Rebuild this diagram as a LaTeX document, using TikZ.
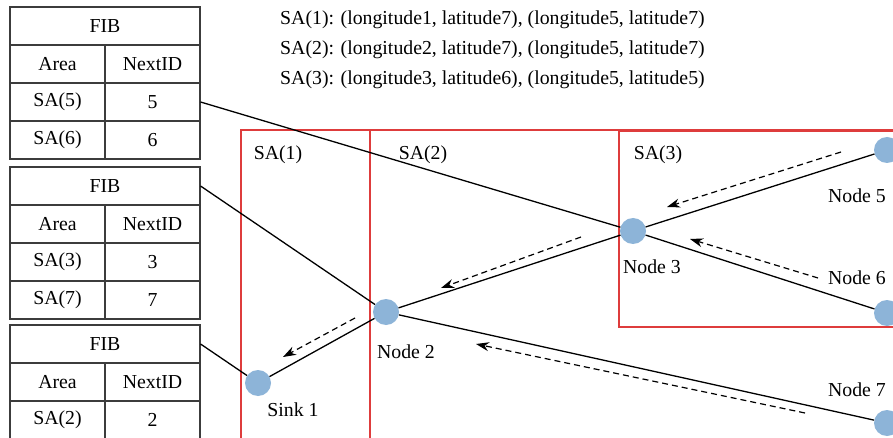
\documentclass[tikz,border=0pt]{standalone}
\usepackage{fontspec}
\setmainfont{Liberation Serif}
\usetikzlibrary{arrows.meta}
\definecolor{nodeblue}{RGB}{141,180,216}
\definecolor{boxred}{RGB}{222,60,60}
\definecolor{tabline}{RGB}{60,60,60}
\newcommand{\fsz}{\fontsize{19.8}{22}\selectfont}
\begin{document}
\begin{tikzpicture}[x=1pt,y=-1pt,
  cell/.style={draw=tabline, line width=1.1pt, minimum height=38pt, inner sep=0pt, font=\fsz},
  wcell/.style={cell, minimum width=190pt},
  hcell/.style={cell, minimum width=95pt},
  sensor/.style={circle, fill=nodeblue, minimum size=26pt, inner sep=0pt},
  lbl/.style={font=\fsz, inner sep=0pt},
  link/.style={line width=1.3pt, black},
  flow/.style={line width=1.2pt, dashed, dash pattern=on 6pt off 4pt, -{Stealth[length=13pt,width=9pt]}},
  region/.style={draw=boxred, line width=1.3pt}]
\useasboundingbox (0,0) rectangle (893,438);
\clip (0,0) rectangle (893,438);
\fill[white] (0,0) rectangle (893,438);

% top text
\node[lbl, anchor=west] (t1) at (280,20) {SA(1): (longitude1, latitude7), (longitude5, latitude7)};
\node[lbl, anchor=west] (t2) at (280,50) {SA(2): (longitude2, latitude7), (longitude5, latitude7)};
\node[lbl, anchor=west] (t3) at (280,80) {SA(3): (longitude3, latitude6), (longitude5, latitude5)};

% regions
\draw[region] (241,460) -- (241,130) -- (900,130);
\draw[region] (370,460) -- (370,130);
\draw[region] (900,131) -- (619,131) -- (619,327) -- (900,327);
\node[lbl] (sa1) at (278,155) {SA(1)};
\node[lbl] (sa2) at (423,155) {SA(2)};
\node[lbl] (sa3) at (658,155) {SA(3)};

% table 1
\node[wcell] (f1) at (105,26) {FIB};
\node[hcell] (f1a) at (57.5,64) {Area};
\node[hcell] (f1b) at (152.5,64) {NextID};
\node[hcell] (f1c) at (57.5,102) {SA(5)};
\node[hcell] (f1d) at (152.5,102) {5};
\node[hcell] (f1e) at (57.5,140) {SA(6)};
\node[hcell] (f1f) at (152.5,140) {6};
% table 2
\node[wcell] (f2) at (105,186) {FIB};
\node[hcell] (f2a) at (57.5,224) {Area};
\node[hcell] (f2b) at (152.5,224) {NextID};
\node[hcell] (f2c) at (57.5,262) {SA(3)};
\node[hcell] (f2d) at (152.5,262) {3};
\node[hcell] (f2e) at (57.5,300) {SA(7)};
\node[hcell] (f2f) at (152.5,300) {7};
% table 3
\node[wcell] (f3) at (105,344) {FIB};
\node[hcell] (f3a) at (57.5,382) {Area};
\node[hcell] (f3b) at (152.5,382) {NextID};
\node[hcell] (f3c) at (57.5,420) {SA(2)};
\node[hcell] (f3d) at (152.5,420) {2};

% sensor nodes
\node[sensor] (sink) at (258,383) {};
\node[sensor] (n2) at (386,312) {};
\node[sensor] (n3) at (633,231) {};
\node[sensor] (n5) at (887,150) {};
\node[sensor] (n6) at (887,313) {};
\node[sensor] (n7) at (887,423) {};

\node[lbl] (lsink) at (293,410) {Sink 1};
\node[lbl] (l2) at (406,352) {Node 2};
\node[lbl] (l3) at (652,267) {Node 3};
\node[lbl] (l5) at (857,196) {Node 5};
\node[lbl] (l6) at (857,278) {Node 6};
\node[lbl] (l7) at (857,390) {Node 7};

% links
\draw[link] (f1d.east) -- (n3);
\draw[link] (f2.east) -- (n2);
\draw[link] (f3.east) -- (sink);
\draw[link] (sink) -- (n2);
\draw[link] (n2) -- (n3);
\draw[link] (n3) -- (n5);
\draw[link] (n3) -- (n6);
\draw[link] (n2) -- (n7);

% data flow arrows
\coordinate (a1s) at (355,318); \coordinate (a1e) at (283,357);
\coordinate (a2s) at (581,237); \coordinate (a2e) at (441,288);
\coordinate (a3s) at (841,152); \coordinate (a3e) at (667,207);
\coordinate (a4s) at (818,278); \coordinate (a4e) at (690,239);
\coordinate (a5s) at (805,413); \coordinate (a5e) at (476,344);
\draw[flow] (a1s) -- (a1e);
\draw[flow] (a2s) -- (a2e);
\draw[flow] (a3s) -- (a3e);
\draw[flow] (a4s) -- (a4e);
\draw[flow] (a5s) -- (a5e);
\end{tikzpicture}
\end{document}
